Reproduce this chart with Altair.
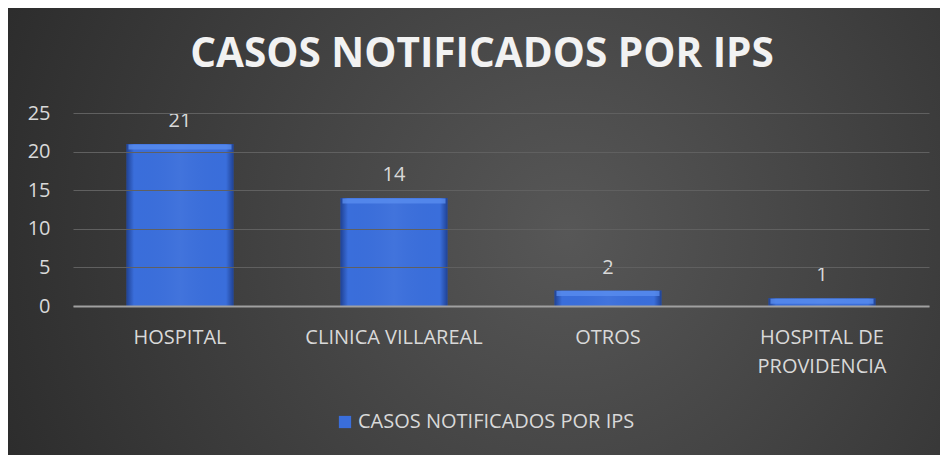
import altair as alt
import pandas as pd

categories = ["HOSPITAL", "CLINICA VILLAREAL", "OTROS", "HOSPITAL DE PROVIDENCIA"]
values = [21, 14, 2, 1]
series_name = "CASOS NOTIFICADOS POR IPS"
title_text = "CASOS NOTIFICADOS POR IPS"
y_ticks = [0, 5, 10, 15, 20, 25]

df = pd.DataFrame({"ips": categories, "casos": values, "serie": [series_name] * len(categories)})

FONT = "Open Sans"
TXT = "#d9d9d9"
W, H = 856, 193
PAD_L, PAD_T = 65, 105
TOTAL_W, TOTAL_H = 932, 448

x_enc = alt.X(
    "ips:N",
    sort=categories,
    scale=alt.Scale(paddingInner=0.5, paddingOuter=0.25),
    axis=alt.Axis(
        title=None,
        labelAngle=0,
        labelFont=FONT,
        labelFontSize=20,
        labelColor=TXT,
        labelPadding=21,
        labelBaseline="top",
        labelLineHeight=29,
        labelLimit=300,
        labelExpr="datum.value == 'HOSPITAL DE PROVIDENCIA' ? ['HOSPITAL DE', 'PROVIDENCIA'] : datum.label",
        ticks=False,
        domain=True,
        domainColor="#a0a0a0",
        domainWidth=2,
        grid=False,
        zindex=1,
    ),
)
y_enc = alt.Y(
    "casos:Q",
    scale=alt.Scale(domain=[0, 25], nice=False),
    axis=alt.Axis(
        title=None,
        values=y_ticks,
        labelFont=FONT,
        labelFontSize=20,
        labelColor=TXT,
        labelPadding=23,
        labelOverlap=False,
        ticks=False,
        domain=False,
        grid=True,
        gridColor="#606060",
        gridWidth=1,
        zindex=1,
    ),
)

bg = alt.Chart(pd.DataFrame({"k": [0]})).mark_rect(
    fill=alt.Gradient(
        gradient="radial",
        stops=[
            alt.GradientStop(color="#575757", offset=0),
            alt.GradientStop(color="#3c3c3c", offset=0.55),
            alt.GradientStop(color="#262626", offset=1),
        ],
        x1=0.6, y1=0.5, r1=0,
        x2=0.6, y2=0.5, r2=0.75,
    ),
).encode(
    x=alt.value(-PAD_L),
    x2=alt.value(TOTAL_W - PAD_L),
    y=alt.value(-PAD_T),
    y2=alt.value(TOTAL_H - PAD_T),
)

bars = alt.Chart(df).mark_bar(size=107).encode(
    x=x_enc,
    y=y_enc,
    color=alt.Color(
        "serie:N",
        scale=alt.Scale(domain=[series_name], range=["#3a6edb"]),
        legend=alt.Legend(
            title=None,
            orient="none",
            legendX=262,
            legendY=299,
            symbolType="square",
            symbolSize=150,
            symbolStrokeWidth=0,
            labelFont=FONT,
            labelFontSize=20,
            labelColor=TXT,
            labelOffset=3,
            labelLimit=400,
        ),
    ),
)

shade = alt.Chart(df).mark_bar(
    size=107,
    fill=alt.Gradient(
        gradient="linear",
        stops=[
            alt.GradientStop(color="rgba(10,30,90,0.55)", offset=0),
            alt.GradientStop(color="rgba(10,30,90,0.0)", offset=0.07),
            alt.GradientStop(color="rgba(255,255,255,0.04)", offset=0.5),
            alt.GradientStop(color="rgba(10,30,90,0.0)", offset=0.93),
            alt.GradientStop(color="rgba(10,30,90,0.55)", offset=1),
        ],
        x1=0, y1=0, x2=1, y2=0,
    ),
).encode(x=x_enc, y=y_enc)

bevel = alt.Chart(df).mark_tick(
    size=103, thickness=5, yOffset=3, color="#5b8ff0", opacity=0.75
).encode(x=x_enc, y=y_enc)

labels = alt.Chart(df).mark_text(
    font=FONT, fontSize=20, color=TXT, baseline="alphabetic", dy=-17
).encode(x=x_enc, y=y_enc, text="casos:Q")

chart = alt.layer(bg, bars, shade, bevel, labels).properties(
    width=W,
    height=H,
    title=alt.TitleParams(
        text=title_text,
        font=FONT,
        fontSize=40.5,
        fontWeight="bold",
        color="#f2f2f2",
        anchor="middle",
        frame="group",
        baseline="alphabetic",
        dx=-19,
        offset=-99,
        zindex=1,
    ),
    autosize=alt.AutoSizeParams(type="none"),
    padding={"left": PAD_L, "top": PAD_T, "right": TOTAL_W - PAD_L - W, "bottom": TOTAL_H - PAD_T - H},
    background="#2a2a2a",
).configure_view(stroke=None)

chart.save("out.html", embed_options={"renderer": "svg", "actions": False})
